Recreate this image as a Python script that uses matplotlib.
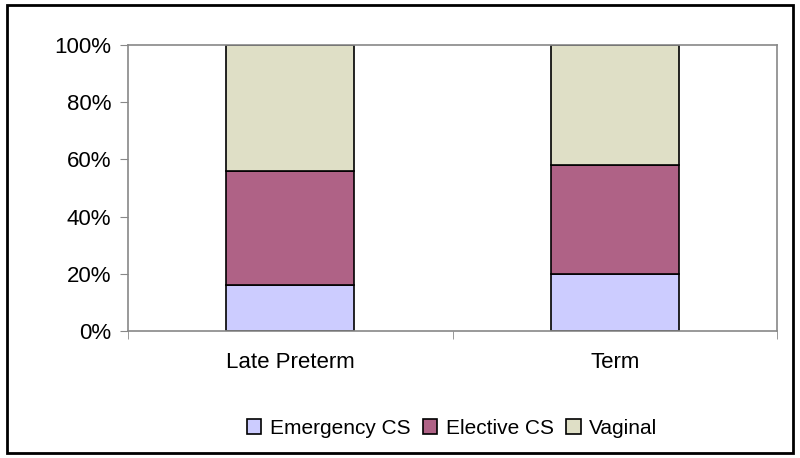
import matplotlib
matplotlib.use("Agg")
import matplotlib.pyplot as plt
import numpy as np
from matplotlib.patches import Rectangle

categories = ["Late Preterm", "Term"]
series_names = ["Emergency CS", "Elective CS", "Vaginal"]
emergency = [16, 20]
elective = [40, 38]
vaginal = [44, 42]
colors = ["#CCCCFF", "#AF6286", "#DFDFC6"]

plt.rcParams['font.family'] = ['Liberation Sans', 'DejaVu Sans']

fig = plt.figure(figsize=(8, 4.58), dpi=100)
ax = fig.add_axes([128/800, 1-331/458, (777-128)/800, (331-45)/458])

x = np.arange(len(categories))
bottom = np.zeros(len(categories))
handles = []
for vals, name, c in zip([emergency, elective, vaginal], series_names, colors):
    b = ax.bar(x, vals, 0.395, bottom=bottom, color=c, edgecolor="black", linewidth=1.2, label=name)
    handles.append(b)
    bottom += np.array(vals)

ax.set_xlim(-0.5, 1.5)
ax.set_ylim(0, 100)
ax.set_yticks(np.arange(0, 101, 20))
ax.set_yticklabels([f"{v}%" for v in range(0, 101, 20)], fontsize=16)
ax.set_xticks(x)
ax.set_xticklabels(categories, fontsize=16)
ax.tick_params(axis='x', length=0, pad=15)
ax.set_xticks([-0.5, 0.5, 1.5], minor=True)
ax.tick_params(axis='x', which='minor', length=6, color='#888888', direction='out')
ax.tick_params(axis='y', length=6, color='#888888', direction='out', pad=6)
for s in ax.spines.values():
    s.set_color('#888888')
    s.set_linewidth(1.2)

leg = fig.legend(handles, series_names, loc='center', bbox_to_anchor=(452/800, 1-428/458),
                 ncol=3, frameon=False, fontsize=15, handlelength=0.7, handleheight=0.7,
                 handletextpad=0.4, columnspacing=0.6)
for h in leg.legend_handles:
    h.set_edgecolor('black')
    h.set_linewidth(1.2)

fig.patches.append(Rectangle((7/800, 5/458), 786/800, 448/458, transform=fig.transFigure,
                             fill=False, edgecolor='black', linewidth=2))

fig.savefig("out.png", dpi=100)
